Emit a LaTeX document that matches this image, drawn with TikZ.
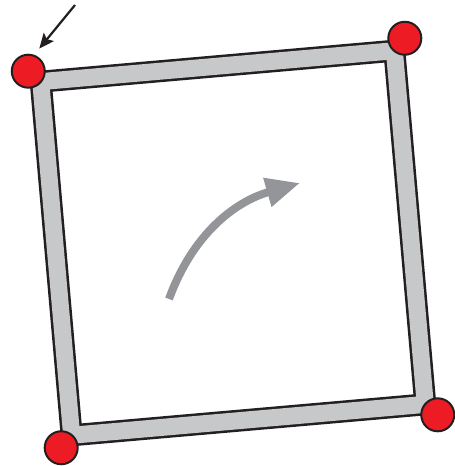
\documentclass[tikz,border=0pt]{standalone}
\usepackage{xcolor}
\definecolor{framegray}{HTML}{C7C8CA}
\definecolor{turngray}{HTML}{939598}
\definecolor{pinred}{HTML}{ED1C24}
\definecolor{inkdark}{HTML}{231F20}
\usetikzlibrary{arrows.meta}
\tikzset{
  band/.style={draw=inkdark, line width=2.5pt, double=framegray,
               double distance=17pt, line join=miter},
  pin/.style={circle, draw=inkdark, fill=pinred, line width=2pt,
              minimum size=33pt, inner sep=0pt},
  pointer/.style={-{Stealth[length=15pt,width=13pt,inset=3pt]},
                  draw=inkdark, line width=2.2pt, shorten >=8pt},
  turn/.style={-{Triangle[length=34pt,width=28pt]}, draw=turngray,
               line width=8pt},
}

\begin{document}
\begin{tikzpicture}[x=1pt, y=-1pt]
  \useasboundingbox (0,0) rectangle (455,466);
  \begin{scope}[shift={(233,243)}, rotate=5]
    % centre line of the frame
    \coordinate (f1) at (-177.5,-177.5);
    \coordinate (f2) at (177.5,-177.5);
    \coordinate (f3) at (177.5,177.5);
    \coordinate (f4) at (-177.5,177.5);
    \draw[band] (f1) -- (f2) -- (f3) -- (f4) -- cycle;
    % corner pins
    \node[pin] (tl) at (-189,-189) {};
    \node[pin] (tr) at (189,-189) {};
    \node[pin] (br) at (189,189) {};
    \node[pin] (bl) at (-189,189) {};
  \end{scope}
  \coordinate (ptr) at (75,5);
  \draw[pointer] (ptr) -- (tl.70);
  \coordinate (s) at (169,299);
  \coordinate (e) at (300,183);
  \draw[turn] (s) to[out=70, in=196] (e);
\end{tikzpicture}
\end{document}
